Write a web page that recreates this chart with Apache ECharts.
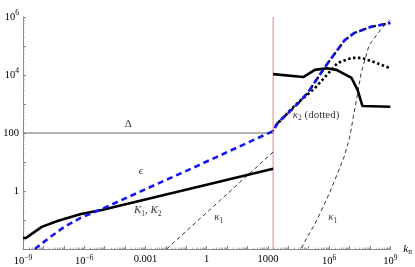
<!DOCTYPE html>
<html>
<head>
<meta charset="utf-8">
<script src="https://cdn.jsdelivr.net/npm/echarts@6/dist/echarts.min.js"></script>
<style>html,body{margin:0;padding:0;background:#fff}#c{width:415px;height:267px}</style>
</head>
<body>
<div id="c"></div>
<script>
// x ticks are every decade; labels shown only for these exponents
const xLabelExps = [-9, -6, -3, 0, 3, 6, 9];
const yLabelExps = [0, 2, 4, 6];

const cutoff = 1800; // red vertical line position

const deltaLine = [[1e-9, 100], [1800, 100]];
const redLine = [[1800, 0.01], [1800, 1e6]];

const epsilon = [
  [3.8e-9, 0.01], [1.6e-8, 0.022], [1.05e-7, 0.058], [6.9e-7, 0.12], [7.2e-6, 0.24],
  [0.34, 7.3], [1800, 117], [3000, 220], [3.1e4, 1070], [9.5e4, 2570],
  [6.3e5, 1.9e4], [5.8e6, 1.6e5], [1.7e7, 2.8e5], [1.15e8, 4.6e5], [1e9, 6.2e5]
];
const epsilonUnder = [
  [1800, 117], [3000, 220], [3.1e4, 1070], [9.5e4, 2570],
  [6.3e5, 1.9e4], [5.8e6, 1.6e5], [1.7e7, 2.8e5], [1.15e8, 4.6e5], [1e9, 6.2e5]
];

const kLeft = [
  [1e-9, 0.024], [1.4e-9, 0.024], [2.2e-9, 0.030], [8.3e-9, 0.058], [4.9e-8, 0.093],
  [6.9e-7, 0.16], [7.2e-6, 0.22], [1800, 5.8]
];
const kRight = [
  [1800, 1.07e4], [5.4e4, 8.5e3], [2.0e5, 1.5e4], [7.8e5, 1.7e4], [2.3e6, 1.5e4],
  [1.26e7, 7.9e3], [2.5e7, 3.0e3], [4.3e7, 850], [1e9, 800]
];
const kappa2 = [
  [2300, 175], [2.2e4, 930], [2.0e5, 3500], [2.6e6, 2.6e4], [1.26e7, 3.9e4],
  [3.8e7, 3.9e4], [1.6e8, 2.8e4], [1e9, 1.7e4]
];
const kappa1Left = [[0.011, 0.01], [1800, 22]];
const kappa1Right = [
  [4.4e4, 0.0107], [8.5e4, 0.026], [2.0e5, 0.072], [5.0e5, 0.28], [1.1e6, 0.93],
  [2.3e6, 3.3], [5.8e6, 17], [1.0e7, 68], [1.7e7, 520], [3.8e7, 1.26e4],
  [9.1e7, 1.07e5], [3.9e8, 4.2e5], [1e9, 7.9e5]
];

const annotations = [
  {pos: [1.45e-4, 204], text: 'Δ'},
  {pos: [6.0e-4, 4.9], text: '{i|ϵ}'},
  {pos: [1.3e-3, 0.22], text: '{i|K}{sub|1}{n|, }{i|K}{sub|2}'},
  {pos: [3.9, 0.126], text: '{i|κ}{sub|1}'},
  {pos: [2.3e5, 417], text: '{i|κ}{sub|2}{n| (dotted)}'},
  {pos: [1.5e6, 0.126], text: '{i|κ}{sub|1}'}
];

const SERIF = '"Liberation Serif", "DejaVu Serif", serif';
const rich = {
  n: {fontFamily: SERIF, fontSize: 11, color: '#000'},
  i: {fontFamily: SERIF, fontSize: 11, fontStyle: 'italic', color: '#000'},
  sub: {fontFamily: SERIF, fontSize: 7.5, color: '#000', padding: [7, 0, 0, 0]},
  b: {fontFamily: SERIF, fontSize: 10.5, color: '#000'},
  s: {fontFamily: SERIF, fontSize: 7.5, color: '#000', padding: [0, 0, 7, 0]}
};

function expLabel(e) {
  if (e === 0) return '{b|1}';
  if (e === 2) return '{b|100}';
  if (e === -3) return '{b|0.001}';
  if (e === 3) return '{b|1000}';
  return '{b|10}{s|' + (e < 0 ? '−' + (-e) : e) + '}';
}

const chart = echarts.init(document.getElementById('c'));
const axisLineStyle = {color: '#888', width: 1};

chart.setOption({
  animation: false,
  backgroundColor: '#fff',
  grid: {left: 23, right: 19, top: 17, bottom: 18, containLabel: false},
  xAxis: {
    type: 'log', logBase: 10, min: 1e-9, max: 1e9, interval: 1,
    name: '{i|k}{sub|n}', nameLocation: 'end', nameGap: 5,
    nameTextStyle: {rich: rich, verticalAlign: 'middle'},
    axisLine: {show: true, lineStyle: axisLineStyle},
    axisTick: {show: true, inside: true, length: 3, lineStyle: axisLineStyle},
    minorTick: {show: true, splitNumber: 9, length: 1.5, lineStyle: {color: '#999', width: 0.8}},
    splitLine: {show: false}, minorSplitLine: {show: false},
    axisLabel: {
      margin: 5, rich: rich,
      formatter: function (v) {
        const e = Math.round(Math.log10(v));
        return xLabelExps.indexOf(e) >= 0 ? expLabel(e) : '';
      }
    }
  },
  yAxis: {
    type: 'log', logBase: 10, min: 0.01, max: 1e6, interval: 1,
    axisLine: {show: true, lineStyle: axisLineStyle},
    axisTick: {show: true, inside: true, length: 3, lineStyle: axisLineStyle},
    minorTick: {show: true, splitNumber: 9, length: 1.5, lineStyle: {color: '#999', width: 0.8}},
    splitLine: {show: false}, minorSplitLine: {show: false},
    axisLabel: {
      margin: 4, rich: rich,
      formatter: function (v) {
        const e = Math.round(Math.log10(v));
        return yLabelExps.indexOf(e) >= 0 ? expLabel(e) : '';
      }
    }
  },
  series: [
    {type: 'line', data: deltaLine, symbol: 'none', lineStyle: {color: '#666', width: 1}, z: 1},
    {type: 'line', data: redLine, symbol: 'none', lineStyle: {color: '#f08080', width: 1}, z: 1},
    {type: 'line', data: kappa1Left, symbol: 'none', lineStyle: {color: '#000', width: 0.8, type: [4, 3]}, z: 2},
    {type: 'line', data: kappa1Right, symbol: 'none', lineStyle: {color: '#000', width: 0.8, type: [4, 3]}, z: 2},
    {type: 'line', data: kLeft, symbol: 'none', lineStyle: {color: '#000', width: 2.6}, z: 3},
    {type: 'line', data: kRight, symbol: 'none', lineStyle: {color: '#000', width: 2.6}, z: 3},
    {type: 'line', data: kappa2, symbol: 'none', lineStyle: {color: '#000', width: 2.6, type: [2.5, 2.5]}, z: 3},
    {type: 'line', data: epsilonUnder, symbol: 'none', lineStyle: {color: '#000', width: 2.2, type: [6, 4], dashOffset: 5}, z: 4},
    {type: 'line', data: epsilon, symbol: 'none', lineStyle: {color: '#1515f0', width: 2.6, type: [6, 4]}, z: 5},
    {
      type: 'scatter', symbolSize: 0, z: 6,
      data: annotations.map(function (a) { return {value: a.pos, label: {formatter: a.text}}; }),
      label: {show: true, position: 'inside', rich: rich, fontFamily: SERIF, fontSize: 11, color: '#000'}
    }
  ]
});
</script>
</body>
</html>
